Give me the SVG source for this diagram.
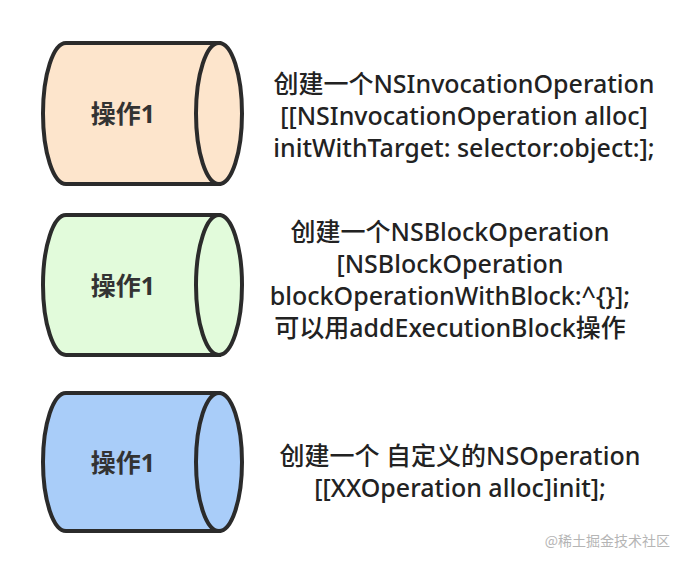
<svg xmlns="http://www.w3.org/2000/svg" width="684" height="564" viewBox="0 0 684 564">
<style>
.cyl{stroke:#2b2b2b;stroke-width:4}
.lbl{font-family:"Noto Sans","Noto Sans CJK SC",sans-serif;font-size:25px;font-weight:bold;fill:#333;text-anchor:middle}
.t{font-family:"Noto Sans","Noto Sans CJK SC",sans-serif;font-size:25px;font-weight:500;fill:#222;text-anchor:middle}
</style>
<rect width="684" height="564" fill="#fff"/>
<g id="node1">
<path class="cyl" fill="#fde5cc" d="M219,43 L66,43 A23,70.5 0 0 0 66,184 L219,184 Z"/>
<ellipse class="cyl" fill="#fde5cc" cx="219" cy="113.5" rx="23" ry="70.5"/>
<text class="lbl" x="123" y="123">操作1</text>
</g>
<g id="node2">
<path class="cyl" fill="#e2fbdb" d="M219,215 L66,215 A23,70 0 0 0 66,355 L219,355 Z"/>
<ellipse class="cyl" fill="#e2fbdb" cx="219" cy="285" rx="23" ry="70"/>
<text class="lbl" x="123" y="295">操作1</text>
</g>
<g id="node3">
<path class="cyl" fill="#a9cdf9" d="M219,393 L66,393 A23,69 0 0 0 66,531 L219,531 Z"/>
<ellipse class="cyl" fill="#a9cdf9" cx="219" cy="462" rx="23" ry="69"/>
<text class="lbl" x="123" y="472">操作1</text>
</g>
<g id="texts">
<text class="t" x="464" y="93">创建一个NSInvocationOperation</text>
<text class="t" x="464" y="125">[[NSInvocationOperation alloc]</text>
<text class="t" x="464" y="157">initWithTarget: selector:object:];</text>
<text class="t" x="450" y="241">创建一个NSBlockOperation</text>
<text class="t" x="450" y="273">[NSBlockOperation</text>
<text class="t" x="450" y="305">blockOperationWithBlock:^{}];</text>
<text class="t" x="450" y="337">可以用addExecutionBlock操作</text>
<text class="t" x="460" y="465">创建一个 自定义的NSOperation</text>
<text class="t" x="460" y="497">[[XXOperation alloc]init];</text>
<text x="670" y="546" text-anchor="end" font-family="Noto Sans CJK SC,sans-serif" font-size="14" fill="#b5b5b5">@稀土掘金技术社区</text>
</g>
<g id="connectors"/>
</svg>
